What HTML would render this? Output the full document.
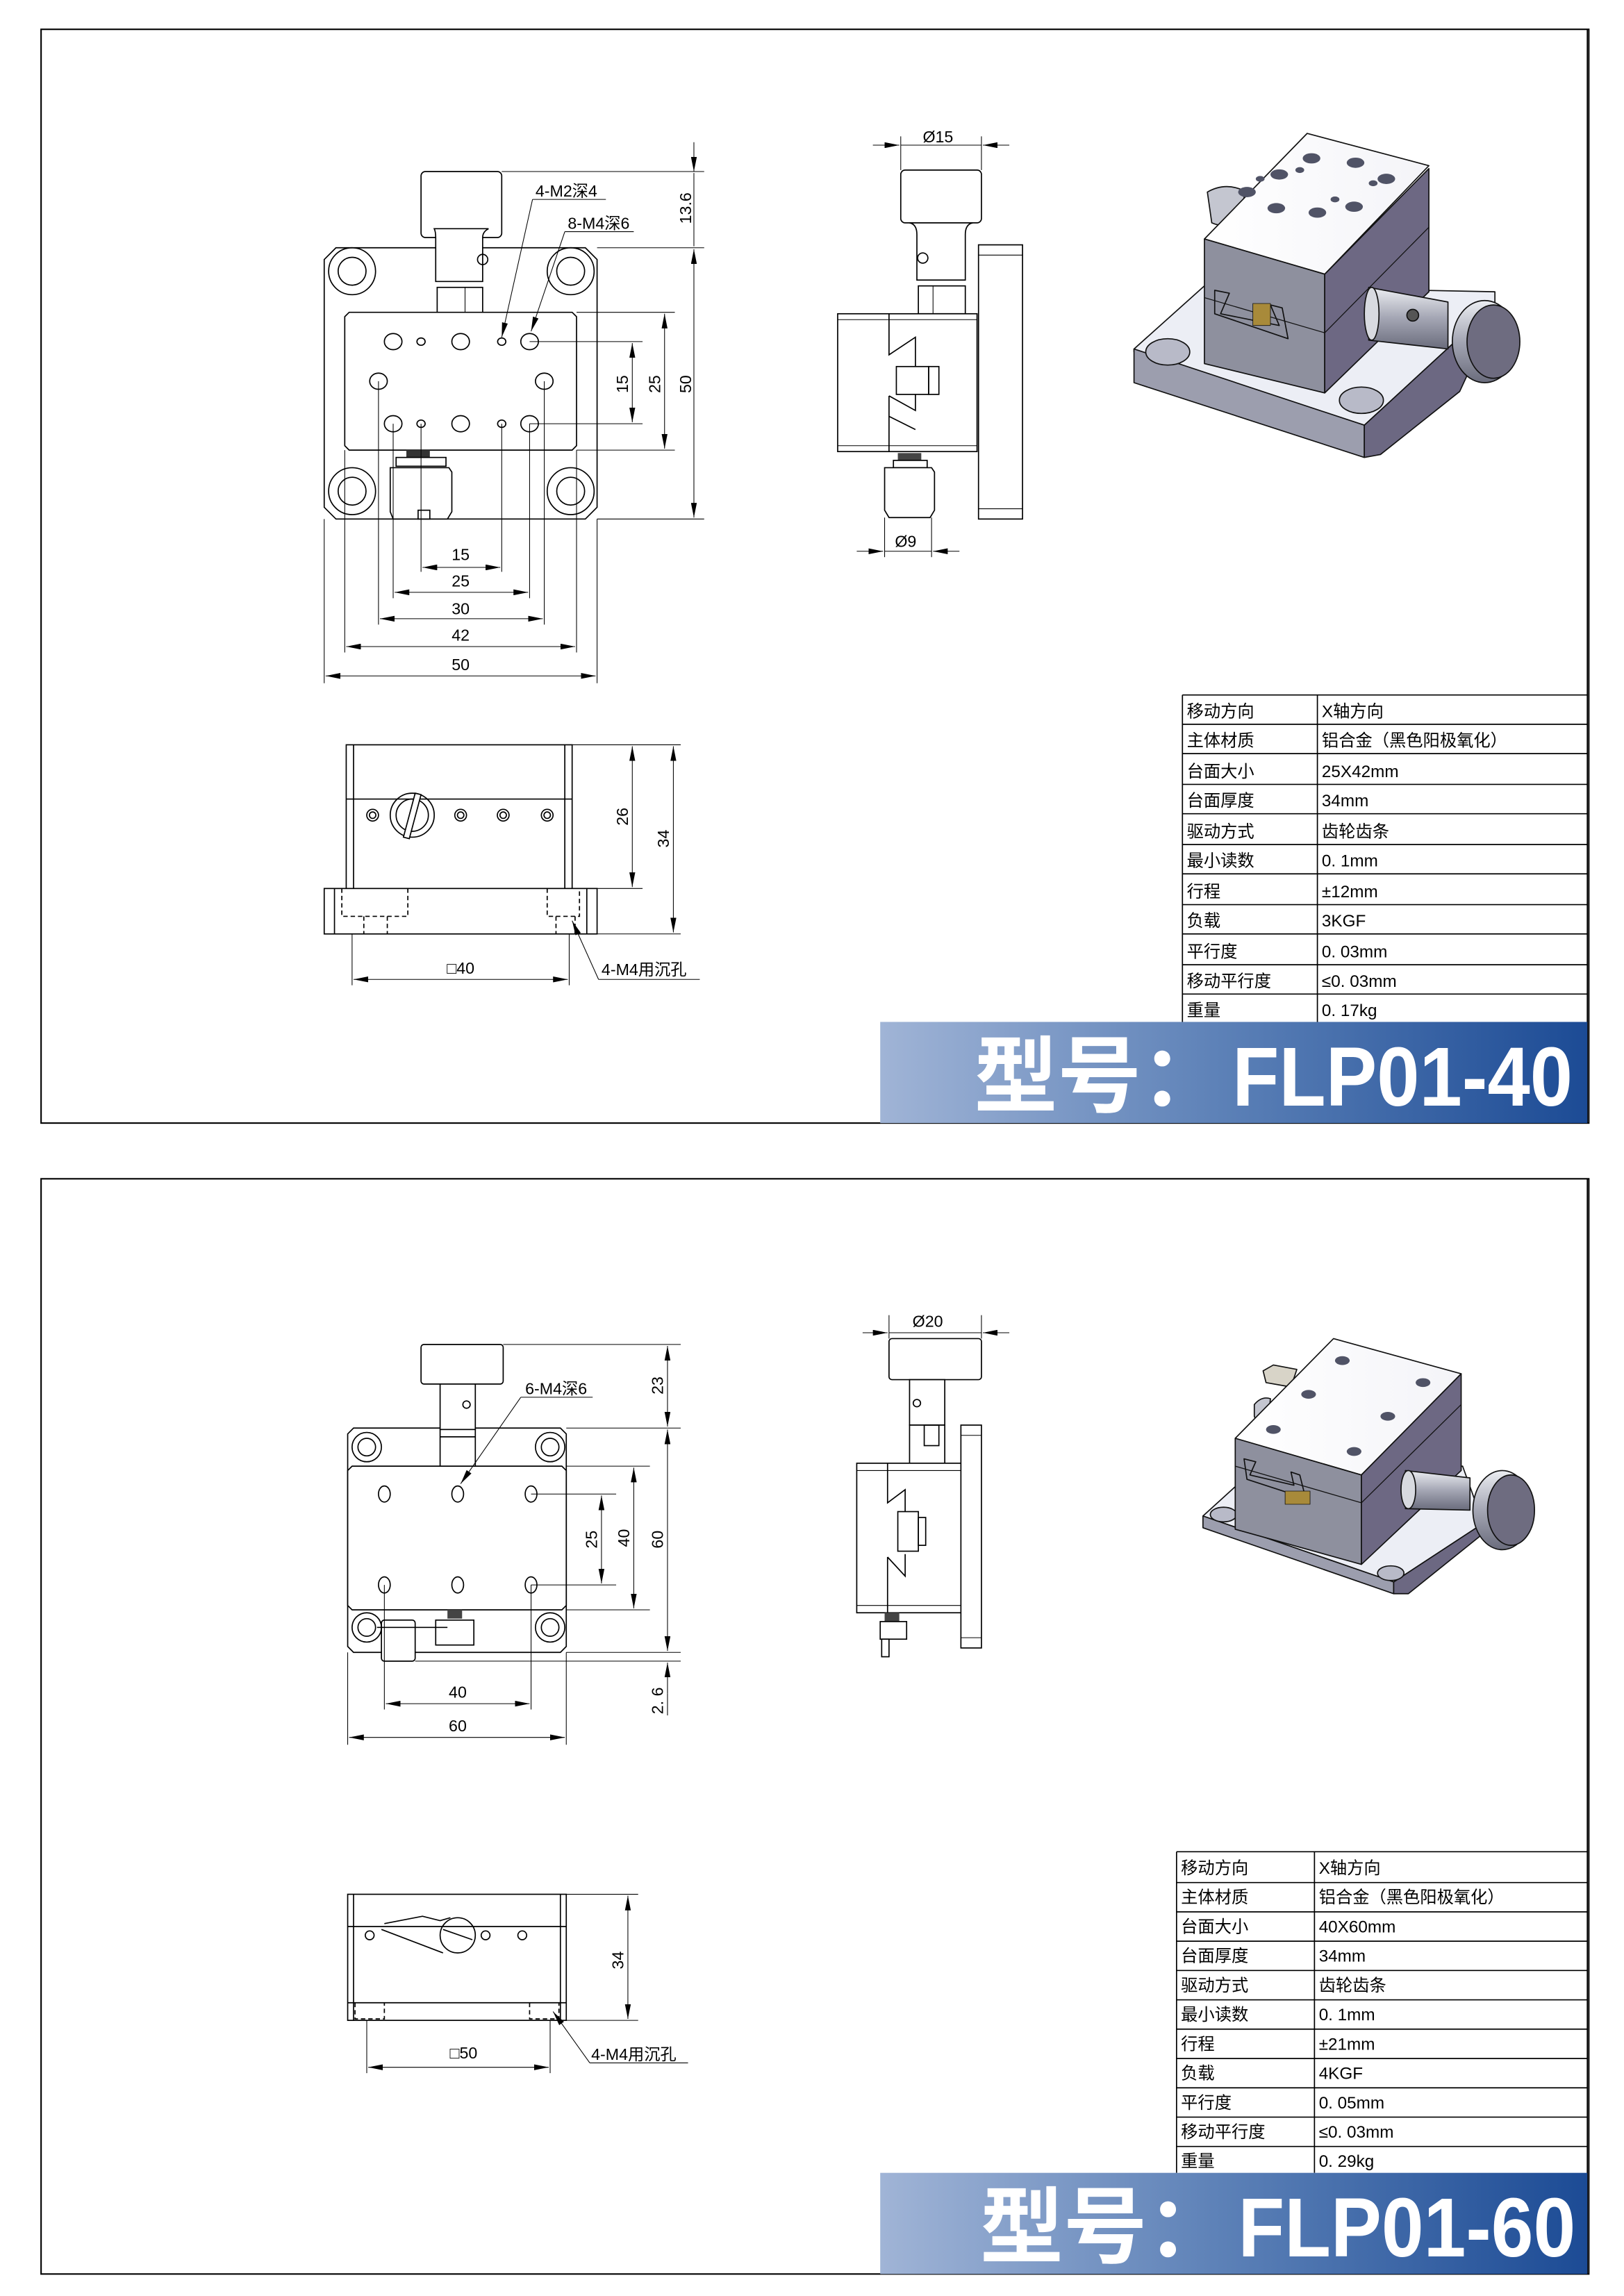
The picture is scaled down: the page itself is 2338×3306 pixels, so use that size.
<!DOCTYPE html>
<html><head><meta charset="utf-8">
<style>
html,body{margin:0;padding:0;background:#fff;}
svg{display:block;}
text{font-family:"Liberation Sans","Noto Sans CJK SC",sans-serif;fill:#000;}
.d{stroke:#000;stroke-width:0.8;fill:none;}
.t{stroke:#000;stroke-width:0.5;fill:none;}
.h{stroke:#000;stroke-width:0.8;fill:none;stroke-dasharray:3 2;}
.w{stroke:#000;stroke-width:0.8;fill:#fff;}
.dim{font-size:11px;}
.tb{font-size:11.5px;}
.ban{font-family:"Liberation Sans","Noto Sans CJK SC",sans-serif;font-weight:bold;font-size:57px;fill:#fff;}
</style></head>
<body>
<svg width="2338" height="3306" viewBox="0 0 1107 1566" preserveAspectRatio="none" xmlns="http://www.w3.org/2000/svg">
<defs>
<marker id="a" viewBox="0 0 10 4" refX="10" refY="2" markerWidth="10" markerHeight="4" orient="auto-start-reverse" markerUnits="userSpaceOnUse"><path d="M0,0 L10,2 L0,4 z" fill="#000"/></marker>
<linearGradient id="g" x1="0" x2="1" y1="0" y2="0"><stop offset="0" stop-color="#a0b4d6"/><stop offset="0.5" stop-color="#5a7fb6"/><stop offset="1" stop-color="#1c4b95"/></linearGradient>
<linearGradient id="gtop" x1="0" x2="1"><stop offset="0" stop-color="#fff"/><stop offset="1" stop-color="#f4f4f8"/></linearGradient>
<linearGradient id="knob" x1="0" y1="0" x2="0" y2="1"><stop offset="0" stop-color="#eceef2"/><stop offset="0.5" stop-color="#a4a6b4"/><stop offset="1" stop-color="#6a6c7c"/></linearGradient>
</defs>

<!-- Panels -->
<rect x="28" y="20" width="1055" height="746" fill="none" stroke="#000" stroke-width="1"/>
<rect x="28" y="804" width="1055" height="747" fill="none" stroke="#000" stroke-width="1"/>

<!-- ============ TOP PANEL: top view ============ -->
<path class="d" d="M229,169 L399,169 L407,177 L407,346 L399,354 L229,354 L221,346 L221,177 Z"/>
<g class="d">
<circle cx="240" cy="185" r="16"/><circle cx="240" cy="185" r="9.5"/>
<circle cx="389" cy="185" r="16"/><circle cx="389" cy="185" r="9.5"/>
<circle cx="240" cy="335" r="16"/><circle cx="240" cy="335" r="9.5"/>
<circle cx="389" cy="335" r="16"/><circle cx="389" cy="335" r="9.5"/>
</g>
<rect class="w" x="287" y="117" width="55" height="45" rx="3"/>
<path class="w" d="M297,162 L297,192 L329,192 L329,162 Q329,158 333,156 L296,156 Q297,158 297,162 Z"/>
<rect class="w" x="298" y="196" width="31" height="18"/>
<line class="t" x1="317" y1="196" x2="317" y2="214"/>
<circle class="d" cx="329" cy="177" r="3.5"/>
<path class="w" d="M238,213 L390,213 L393,216 L393,304 L390,307 L238,307 L235,304 L235,216 Z"/>
<g class="d">
<ellipse cx="268" cy="233" rx="6" ry="5.5"/><ellipse cx="287" cy="233" rx="2.8" ry="2.5"/><ellipse cx="314" cy="233" rx="6" ry="5.5"/><ellipse cx="342" cy="233" rx="2.8" ry="2.5"/><ellipse cx="361" cy="233" rx="6" ry="5.5"/>
<ellipse cx="258" cy="260" rx="6" ry="5.5"/><ellipse cx="371" cy="260" rx="6" ry="5.5"/>
<ellipse cx="268" cy="289" rx="6" ry="5.5"/><ellipse cx="287" cy="289" rx="2.8" ry="2.5"/><ellipse cx="314" cy="289" rx="6" ry="5.5"/><ellipse cx="342" cy="289" rx="2.8" ry="2.5"/><ellipse cx="361" cy="289" rx="6" ry="5.5"/>
</g>
<rect x="277" y="307" width="16" height="6" fill="#333"/>
<rect class="w" x="270" y="312" width="34" height="6"/>
<path class="w" d="M266,319 L306,319 L308,322 L308,349 L305,354 L268,354 L266,349 Z"/>
<rect class="d" x="285" y="348" width="8" height="6"/>
<g class="t">
<line x1="287" y1="289" x2="287" y2="390"/><line x1="342" y1="289" x2="342" y2="390"/>
<line x1="268" y1="289" x2="268" y2="408"/><line x1="361" y1="289" x2="361" y2="408"/>
<line x1="258" y1="260" x2="258" y2="426"/><line x1="371" y1="260" x2="371" y2="426"/>
<line x1="235" y1="307" x2="235" y2="445"/><line x1="393" y1="307" x2="393" y2="445"/>
<line x1="221" y1="354" x2="221" y2="466"/><line x1="407" y1="354" x2="407" y2="466"/>
<line x1="288" y1="387" x2="341" y2="387" marker-start="url(#a)" marker-end="url(#a)"/>
<line x1="269" y1="404" x2="360" y2="404" marker-start="url(#a)" marker-end="url(#a)"/>
<line x1="259" y1="422" x2="370" y2="422" marker-start="url(#a)" marker-end="url(#a)"/>
<line x1="236" y1="441" x2="392" y2="441" marker-start="url(#a)" marker-end="url(#a)"/>
<line x1="222" y1="461" x2="406" y2="461" marker-start="url(#a)" marker-end="url(#a)"/>
<line x1="342" y1="117" x2="480" y2="117"/><line x1="407" y1="169" x2="480" y2="169"/><line x1="407" y1="354" x2="480" y2="354"/>
<line x1="393" y1="213" x2="460" y2="213"/><line x1="393" y1="307" x2="460" y2="307"/>
<line x1="361" y1="233" x2="438" y2="233"/><line x1="361" y1="289" x2="438" y2="289"/>
<line x1="473" y1="97" x2="473" y2="117" marker-end="url(#a)"/>
<line x1="473" y1="118" x2="473" y2="168"/>
<line x1="473" y1="170" x2="473" y2="353" marker-start="url(#a)" marker-end="url(#a)"/>
<line x1="453" y1="214" x2="453" y2="306" marker-start="url(#a)" marker-end="url(#a)"/>
<line x1="431" y1="234" x2="431" y2="288" marker-start="url(#a)" marker-end="url(#a)"/>
<line x1="363" y1="136" x2="413" y2="136"/><line x1="363" y1="136" x2="342" y2="230" marker-end="url(#a)"/>
<line x1="385" y1="158" x2="432" y2="158"/><line x1="385" y1="158" x2="362" y2="226" marker-end="url(#a)"/>
</g>
<g class="dim" text-anchor="middle">
<text x="314" y="382">15</text><text x="314" y="400">25</text><text x="314" y="419">30</text><text x="314" y="437">42</text><text x="314" y="457">50</text>
</g>
<text class="dim" x="365" y="134">4-M2深4</text>
<text class="dim" x="387" y="156">8-M4深6</text>
<text class="dim" transform="translate(471,142) rotate(-90)" text-anchor="middle">13.6</text>
<text class="dim" transform="translate(471,262) rotate(-90)" text-anchor="middle">50</text>
<text class="dim" transform="translate(450,262) rotate(-90)" text-anchor="middle">25</text>
<text class="dim" transform="translate(428,262) rotate(-90)" text-anchor="middle">15</text>

<!-- ============ TOP PANEL: side view ============ -->
<rect class="w" x="614" y="116" width="55" height="36" rx="3"/>
<path class="w" d="M620,152 Q625,153 625,160 L625,191 L658,191 L658,160 Q658,153 663,152 Z"/>
<circle class="d" cx="629" cy="176" r="3.5"/>
<rect class="w" x="626" y="195" width="32" height="19"/><line class="t" x1="636" y1="195" x2="636" y2="214"/>
<rect class="w" x="571" y="214" width="95" height="94"/>
<line class="t" x1="571" y1="218" x2="666" y2="218"/><line class="t" x1="571" y1="304" x2="666" y2="304"/>
<path class="d" d="M606,214 L606,242 L624,230 L624,250 M606,270 L624,280 L624,268 M606,270 L606,308 M606,284 L624,293"/>
<rect class="w" x="611" y="250" width="22" height="19"/><rect class="d" x="633" y="250" width="7" height="19"/>
<rect class="w" x="667" y="167" width="30" height="187"/>
<line class="t" x1="667" y1="174" x2="697" y2="174"/><line class="t" x1="667" y1="347" x2="697" y2="347"/>
<rect x="612" y="309" width="16" height="7" fill="#444"/>
<rect class="w" x="609" y="314" width="23" height="5"/>
<path class="w" d="M603,319 L635,319 L637,322 L637,348 L634,353 L606,353 L603,348 Z"/>
<g class="t">
<line x1="614" y1="93" x2="614" y2="116"/><line x1="669" y1="93" x2="669" y2="116"/>
<line x1="595" y1="99" x2="613" y2="99" marker-end="url(#a)"/><line x1="614" y1="99" x2="669" y2="99"/><line x1="688" y1="99" x2="670" y2="99" marker-end="url(#a)"/>
<line x1="603" y1="353" x2="603" y2="380"/><line x1="635" y1="353" x2="635" y2="380"/>
<line x1="584" y1="376" x2="602" y2="376" marker-end="url(#a)"/><line x1="603" y1="376" x2="635" y2="376"/><line x1="654" y1="376" x2="636" y2="376" marker-end="url(#a)"/>
</g>
<text class="dim" x="629" y="97">Ø15</text>
<text class="dim" x="610" y="373">Ø9</text>

<!-- ============ TOP PANEL: 3D ============ -->
<g stroke="#111" stroke-width="0.8" stroke-linejoin="round">
<path d="M823,131 Q835,124 848,130 L848,152 Q835,156 826,152 Z" fill="#c4c6d0"/>
<path d="M773,238 L821,195 L1019,199 L1019,208 L930,290 L773,240 Z" fill="#eceef5"/>
<path d="M773,238 L930,290 L930,312 L773,261 Z" fill="#9c9eae"/>
<path d="M930,290 L1019,208 L1019,215 L995,267 L941,310 L930,312 Z" fill="#6c6882"/>
<ellipse cx="796" cy="240" rx="15" ry="9" fill="#b8bac8"/>
<ellipse cx="928" cy="273" rx="15" ry="9" fill="#b8bac8"/>
<path d="M821,163 L891,91 L974,113 L903,187 Z" fill="url(#gtop)"/>
<path d="M821,163 L903,187 L903,268 L821,248 Z" fill="#8e909e"/>
<path d="M903,187 L974,115 L974,199 L903,268 Z" fill="#6d6883"/>
<path d="M821,203 L903,227 L974,155" fill="none" stroke-width="0.6"/>
<path d="M828,198 L838,200 L832,214 L872,222 L866,208 L874,210 L878,231 L828,214 Z" fill="none"/>
<rect x="854" y="207" width="12" height="15" fill="#a88a3a" stroke-width="0.4"/>
<path d="M933,196 L987,206 L987,238 L933,232 Z" fill="url(#knob)"/>
<ellipse cx="935" cy="214" rx="5" ry="18" fill="#d8dae0"/>
<ellipse cx="1012" cy="233" rx="22" ry="28" fill="url(#knob)"/>
<ellipse cx="1018" cy="233" rx="18" ry="25" fill="#6e6c80"/>
<circle cx="963" cy="215" r="4" fill="#555"/>
</g>
<g fill="#505366">
<ellipse cx="894" cy="108" rx="6" ry="3.5"/><ellipse cx="924" cy="111" rx="6" ry="3.5"/><ellipse cx="945" cy="122" rx="6" ry="3.5"/>
<ellipse cx="872" cy="119" rx="6" ry="3.5"/><ellipse cx="923" cy="141" rx="6" ry="3.5"/><ellipse cx="850" cy="131" rx="6" ry="3.5"/>
<ellipse cx="870" cy="142" rx="6" ry="3.5"/><ellipse cx="898" cy="145" rx="6" ry="3.5"/>
<ellipse cx="886" cy="116" rx="3" ry="2"/><ellipse cx="936" cy="125" rx="3" ry="2"/><ellipse cx="859" cy="122" rx="3" ry="2"/><ellipse cx="910" cy="136" rx="3" ry="2"/>
</g>

<!-- ============ TOP PANEL: front view ============ -->
<rect class="w" x="236" y="508" width="154" height="98"/>
<line class="d" x1="241" y1="508" x2="241" y2="606"/><line class="d" x1="385" y1="508" x2="385" y2="606"/>
<line class="d" x1="236" y1="545" x2="390" y2="545"/>
<circle class="d" cx="254" cy="556" r="4"/><circle class="d" cx="254" cy="556" r="2.2"/>
<circle class="d" cx="314" cy="556" r="4"/><circle class="d" cx="314" cy="556" r="2.2"/>
<circle class="d" cx="343" cy="556" r="4"/><circle class="d" cx="343" cy="556" r="2.2"/>
<circle class="d" cx="373" cy="556" r="4"/><circle class="d" cx="373" cy="556" r="2.2"/>
<circle class="d" cx="281" cy="556" r="15"/><circle class="d" cx="281" cy="556" r="11"/>
<path class="w" d="M283,541 L287,542 L279,572 L275,571 Z"/>
<rect class="w" x="221" y="606" width="186" height="31"/>
<line class="d" x1="228" y1="606" x2="228" y2="637"/><line class="d" x1="400" y1="606" x2="400" y2="637"/>
<path class="h" d="M233,606 L233,625 L278,625 L278,606 M248,625 L248,637 M264,625 L264,637 M373,606 L373,625 L395,625 L395,606 M379,625 L379,637 M392,625 L392,637"/>
<g class="t">
<line x1="390" y1="508" x2="464" y2="508"/><line x1="390" y1="606" x2="438" y2="606"/><line x1="407" y1="637" x2="464" y2="637"/>
<line x1="431" y1="509" x2="431" y2="605" marker-start="url(#a)" marker-end="url(#a)"/>
<line x1="459" y1="509" x2="459" y2="636" marker-start="url(#a)" marker-end="url(#a)"/>
<line x1="240" y1="637" x2="240" y2="672"/><line x1="388" y1="637" x2="388" y2="672"/>
<line x1="241" y1="668" x2="387" y2="668" marker-start="url(#a)" marker-end="url(#a)"/>
<line x1="477" y1="668" x2="408" y2="668"/><line x1="408" y1="668" x2="390" y2="628" marker-end="url(#a)"/>
</g>
<text class="dim" transform="translate(428,557) rotate(-90)" text-anchor="middle">26</text>
<text class="dim" transform="translate(456,572) rotate(-90)" text-anchor="middle">34</text>
<text class="dim" x="314" y="664" text-anchor="middle">□40</text>
<text class="dim" x="410" y="665">4-M4用沉孔</text>

<!-- ============ TOP PANEL: table ============ -->
<g stroke="#000" stroke-width="0.8">
<line x1="806" y1="474" x2="1082" y2="474"/>
<line x1="806" y1="494" x2="1082" y2="494"/><line x1="806" y1="514" x2="1082" y2="514"/><line x1="806" y1="535" x2="1082" y2="535"/><line x1="806" y1="555" x2="1082" y2="555"/><line x1="806" y1="576" x2="1082" y2="576"/><line x1="806" y1="596" x2="1082" y2="596"/><line x1="806" y1="617" x2="1082" y2="617"/><line x1="806" y1="637" x2="1082" y2="637"/><line x1="806" y1="658" x2="1082" y2="658"/><line x1="806" y1="678" x2="1082" y2="678"/>
<line x1="806" y1="474" x2="806" y2="697"/><line x1="898" y1="474" x2="898" y2="697"/><line x1="1082" y1="20" x2="1082" y2="766"/>
</g>
<g class="tb">
<text x="809" y="489">移动方向</text><text x="901" y="489">X轴方向</text>
<text x="809" y="509">主体材质</text><text x="901" y="509">铝合金（黑色阳极氧化）</text>
<text x="809" y="530">台面大小</text><text x="901" y="530">25X42mm</text>
<text x="809" y="550">台面厚度</text><text x="901" y="550">34mm</text>
<text x="809" y="571">驱动方式</text><text x="901" y="571">齿轮齿条</text>
<text x="809" y="591">最小读数</text><text x="901" y="591">0. 1mm</text>
<text x="809" y="612">行程</text><text x="901" y="612">±12mm</text>
<text x="809" y="632">负载</text><text x="901" y="632">3KGF</text>
<text x="809" y="653">平行度</text><text x="901" y="653">0. 03mm</text>
<text x="809" y="673">移动平行度</text><text x="901" y="673">≤0. 03mm</text>
<text x="809" y="693">重量</text><text x="901" y="693">0. 17kg</text>
</g>
<rect x="600" y="697" width="482" height="69" fill="url(#g)"/>
<text class="ban" x="664" y="754">型号：</text>
<text class="ban" x="840" y="754" textLength="232" lengthAdjust="spacingAndGlyphs">FLP01-40</text>

<!-- ============ BOTTOM PANEL: top view ============ -->
<path class="d" d="M241,974 L382,974 L386,978 L386,1123 L382,1127 L241,1127 L237,1123 L237,978 Z"/>
<g class="d">
<circle cx="250" cy="987" r="10"/><circle cx="250" cy="987" r="6"/>
<circle cx="375" cy="987" r="10"/><circle cx="375" cy="987" r="6"/>
<circle cx="250" cy="1110" r="10"/><circle cx="250" cy="1110" r="6"/>
<circle cx="375" cy="1110" r="10"/><circle cx="375" cy="1110" r="6"/>
</g>
<rect class="w" x="287" y="917" width="56" height="27" rx="2"/>
<rect class="w" x="300" y="944" width="24" height="31"/>
<path class="d" d="M300,975 L300,1000 M324,975 L324,1000 M300,980 L324,980"/>
<circle class="d" cx="318" cy="958" r="2.5"/>
<path class="w" d="M240,1000 L383,1000 L386,1003 L386,1095 L383,1098 L240,1098 L237,1095 L237,1003 Z"/>
<g class="d">
<ellipse cx="262" cy="1019" rx="4" ry="5.5"/><ellipse cx="312" cy="1019" rx="4" ry="5.5"/><ellipse cx="362" cy="1019" rx="4" ry="5.5"/>
<ellipse cx="262" cy="1081" rx="4" ry="5.5"/><ellipse cx="312" cy="1081" rx="4" ry="5.5"/><ellipse cx="362" cy="1081" rx="4" ry="5.5"/>
</g>
<rect x="305" y="1098" width="10" height="6" fill="#444"/>
<rect class="w" x="297" y="1105" width="26" height="17"/>
<rect class="w" x="260" y="1105" width="23" height="28" rx="2"/>
<line class="d" x1="257" y1="1110" x2="305" y2="1110"/>
<g class="t">
<line x1="343" y1="917" x2="464" y2="917"/><line x1="386" y1="974" x2="464" y2="974"/><line x1="386" y1="1127" x2="464" y2="1127"/><line x1="283" y1="1133" x2="464" y2="1133"/>
<line x1="386" y1="1000" x2="443" y2="1000"/><line x1="386" y1="1098" x2="443" y2="1098"/>
<line x1="362" y1="1019" x2="420" y2="1019"/><line x1="362" y1="1081" x2="420" y2="1081"/>
<line x1="455" y1="918" x2="455" y2="973" marker-start="url(#a)" marker-end="url(#a)"/>
<line x1="455" y1="975" x2="455" y2="1126" marker-start="url(#a)" marker-end="url(#a)"/>
<line x1="455" y1="1155" x2="455" y2="1134" marker-end="url(#a)"/><line x1="455" y1="1155" x2="455" y2="1170"/>
<line x1="432" y1="1001" x2="432" y2="1097" marker-start="url(#a)" marker-end="url(#a)"/>
<line x1="410" y1="1020" x2="410" y2="1080" marker-start="url(#a)" marker-end="url(#a)"/>
<line x1="262" y1="1081" x2="262" y2="1166"/><line x1="362" y1="1081" x2="362" y2="1166"/>
<line x1="237" y1="1127" x2="237" y2="1190"/><line x1="386" y1="1127" x2="386" y2="1190"/>
<line x1="263" y1="1162" x2="361" y2="1162" marker-start="url(#a)" marker-end="url(#a)"/>
<line x1="238" y1="1185" x2="385" y2="1185" marker-start="url(#a)" marker-end="url(#a)"/>
<line x1="355" y1="953" x2="404" y2="953"/><line x1="355" y1="953" x2="314" y2="1012" marker-end="url(#a)"/>
</g>
<text class="dim" x="312" y="1158" text-anchor="middle">40</text>
<text class="dim" x="312" y="1181" text-anchor="middle">60</text>
<text class="dim" x="358" y="951">6-M4深6</text>
<text class="dim" transform="translate(452,945) rotate(-90)" text-anchor="middle">23</text>
<text class="dim" transform="translate(452,1050) rotate(-90)" text-anchor="middle">60</text>
<text class="dim" transform="translate(429,1049) rotate(-90)" text-anchor="middle">40</text>
<text class="dim" transform="translate(407,1050) rotate(-90)" text-anchor="middle">25</text>
<text class="dim" transform="translate(452,1160) rotate(-90)" text-anchor="middle">2. 6</text>

<!-- ============ BOTTOM PANEL: side view ============ -->
<rect class="w" x="606" y="913" width="63" height="28" rx="2"/>
<rect class="w" x="620" y="941" width="24" height="31"/>
<circle class="d" cx="625" cy="957" r="2.5"/>
<rect class="w" x="620" y="972" width="24" height="27"/><rect class="d" x="630" y="972" width="10" height="14"/>
<rect class="w" x="584" y="998" width="82" height="102"/>
<line class="t" x1="584" y1="1003" x2="666" y2="1003"/><line class="t" x1="584" y1="1095" x2="666" y2="1095"/>
<path class="d" d="M605,998 L605,1025 L617,1016 L617,1035 M605,1062 L617,1075 L617,1060 M605,1062 L605,1100"/>
<rect class="w" x="612" y="1031" width="14" height="27"/><rect class="d" x="626" y="1035" width="5" height="19"/>
<rect class="w" x="655" y="972" width="14" height="152"/>
<line class="t" x1="655" y1="979" x2="669" y2="979"/><line class="t" x1="655" y1="1117" x2="669" y2="1117"/>
<rect x="603" y="1100" width="10" height="6" fill="#444"/>
<rect class="w" x="600" y="1106" width="18" height="12"/>
<rect class="w" x="601" y="1118" width="5" height="12"/>
<g class="t">
<line x1="606" y1="897" x2="606" y2="913"/><line x1="669" y1="897" x2="669" y2="913"/>
<line x1="588" y1="909" x2="605" y2="909" marker-end="url(#a)"/><line x1="606" y1="909" x2="669" y2="909"/><line x1="688" y1="909" x2="670" y2="909" marker-end="url(#a)"/>
</g>
<text class="dim" x="622" y="905">Ø20</text>

<!-- ============ BOTTOM PANEL: 3D ============ -->
<g stroke="#111" stroke-width="0.8" stroke-linejoin="round">
<path d="M861,935 L868,931 L884,934 L880,946 L863,943 Z" fill="#d8d4c8"/>
<path d="M855,958 Q860,952 866,954 L864,972 Q857,972 855,966 Z" fill="#c4c6d0"/>
<path d="M820,1034 L842,1014 L997,1000 L1011,1039 L950,1079 Z" fill="#eceef5"/>
<path d="M820,1034 L950,1079 L950,1087 L820,1042 Z" fill="#9c9eae"/>
<path d="M950,1079 L1011,1039 L1011,1046 L960,1087 L950,1087 Z" fill="#6c6882"/>
<ellipse cx="834" cy="1033" rx="9" ry="5" fill="#b8bac8"/>
<ellipse cx="948" cy="1073" rx="9" ry="5" fill="#b8bac8"/>
<path d="M842,981 L909,913 L996,937 L928,1006 Z" fill="url(#gtop)"/>
<path d="M842,981 L928,1006 L928,1067 L842,1043 Z" fill="#8e909e"/>
<path d="M928,1006 L996,937 L996,1003 L928,1067 Z" fill="#6d6883"/>
<path d="M842,1000 L928,1025 L996,958" fill="none" stroke-width="0.6"/>
<path d="M848,995 L856,997 L852,1006 L882,1013 L880,1004 L886,1006 L890,1022 L850,1009 Z" fill="none"/>
<rect x="876" y="1017" width="17" height="9" fill="#a88a3a" stroke-width="0.4"/>
<path d="M958,1003 L1002,1008 L1002,1030 L958,1029 Z" fill="url(#knob)"/>
<ellipse cx="960" cy="1016" rx="5" ry="13" fill="#d8dae0"/>
<ellipse cx="1024" cy="1030" rx="20" ry="27" fill="url(#knob)"/>
<ellipse cx="1030" cy="1030" rx="16" ry="24" fill="#6e6c80"/>
</g>
<g fill="#505366">
<ellipse cx="915" cy="928" rx="5" ry="3"/><ellipse cx="970" cy="943" rx="5" ry="3"/><ellipse cx="892" cy="951" rx="5" ry="3"/>
<ellipse cx="946" cy="966" rx="5" ry="3"/><ellipse cx="868" cy="975" rx="5" ry="3"/><ellipse cx="923" cy="990" rx="5" ry="3"/>
</g>

<!-- ============ BOTTOM PANEL: front view ============ -->
<rect class="w" x="237" y="1292" width="149" height="86"/>
<line class="d" x1="241" y1="1292" x2="241" y2="1378"/><line class="d" x1="382" y1="1292" x2="382" y2="1378"/>
<line class="d" x1="237" y1="1314" x2="386" y2="1314"/><line class="d" x1="237" y1="1366" x2="386" y2="1366"/>
<circle class="d" cx="252" cy="1320" r="3"/><circle class="d" cx="331" cy="1320" r="3"/><circle class="d" cx="356" cy="1320" r="3"/>
<circle class="d" cx="312" cy="1320" r="12"/>
<path class="d" d="M262,1312 L288,1307 L300,1310 L307,1308 M260,1316 L302,1332"/>
<line class="d" x1="302" y1="1316" x2="322" y2="1323"/>
<path class="h" d="M242,1366 L242,1377 L262,1377 L262,1366 M361,1366 L361,1377 L381,1377 L381,1366"/>
<g class="t">
<line x1="386" y1="1292" x2="435" y2="1292"/><line x1="386" y1="1378" x2="435" y2="1378"/>
<line x1="428" y1="1293" x2="428" y2="1377" marker-start="url(#a)" marker-end="url(#a)"/>
<line x1="250" y1="1378" x2="250" y2="1414"/><line x1="375" y1="1378" x2="375" y2="1414"/>
<line x1="251" y1="1410" x2="374" y2="1410" marker-start="url(#a)" marker-end="url(#a)"/>
<line x1="469" y1="1407" x2="402" y2="1407"/><line x1="402" y1="1407" x2="377" y2="1372" marker-end="url(#a)"/>
</g>
<text class="dim" transform="translate(425,1337) rotate(-90)" text-anchor="middle">34</text>
<text class="dim" x="316" y="1404" text-anchor="middle">□50</text>
<text class="dim" x="403" y="1405">4-M4用沉孔</text>

<!-- ============ BOTTOM PANEL: table ============ -->
<g stroke="#000" stroke-width="0.8">
<line x1="802" y1="1263" x2="1082" y2="1263"/>
<line x1="802" y1="1284" x2="1082" y2="1284"/><line x1="802" y1="1304" x2="1082" y2="1304"/><line x1="802" y1="1324" x2="1082" y2="1324"/><line x1="802" y1="1344" x2="1082" y2="1344"/><line x1="802" y1="1364" x2="1082" y2="1364"/><line x1="802" y1="1384" x2="1082" y2="1384"/><line x1="802" y1="1404" x2="1082" y2="1404"/><line x1="802" y1="1424" x2="1082" y2="1424"/><line x1="802" y1="1444" x2="1082" y2="1444"/><line x1="802" y1="1464" x2="1082" y2="1464"/>
<line x1="802" y1="1263" x2="802" y2="1482"/><line x1="896" y1="1263" x2="896" y2="1482"/><line x1="1082" y1="804" x2="1082" y2="1551"/>
</g>
<g class="tb">
<text x="805" y="1278">移动方向</text><text x="899" y="1278">X轴方向</text>
<text x="805" y="1298">主体材质</text><text x="899" y="1298">铝合金（黑色阳极氧化）</text>
<text x="805" y="1318">台面大小</text><text x="899" y="1318">40X60mm</text>
<text x="805" y="1338">台面厚度</text><text x="899" y="1338">34mm</text>
<text x="805" y="1358">驱动方式</text><text x="899" y="1358">齿轮齿条</text>
<text x="805" y="1378">最小读数</text><text x="899" y="1378">0. 1mm</text>
<text x="805" y="1398">行程</text><text x="899" y="1398">±21mm</text>
<text x="805" y="1418">负载</text><text x="899" y="1418">4KGF</text>
<text x="805" y="1438">平行度</text><text x="899" y="1438">0. 05mm</text>
<text x="805" y="1458">移动平行度</text><text x="899" y="1458">≤0. 03mm</text>
<text x="805" y="1478">重量</text><text x="899" y="1478">0. 29kg</text>
</g>
<rect x="600" y="1482" width="482" height="69" fill="url(#g)"/>
<text class="ban" x="668" y="1539">型号：</text>
<text class="ban" x="844" y="1539" textLength="230" lengthAdjust="spacingAndGlyphs">FLP01-60</text>
</svg>
</body></html>
